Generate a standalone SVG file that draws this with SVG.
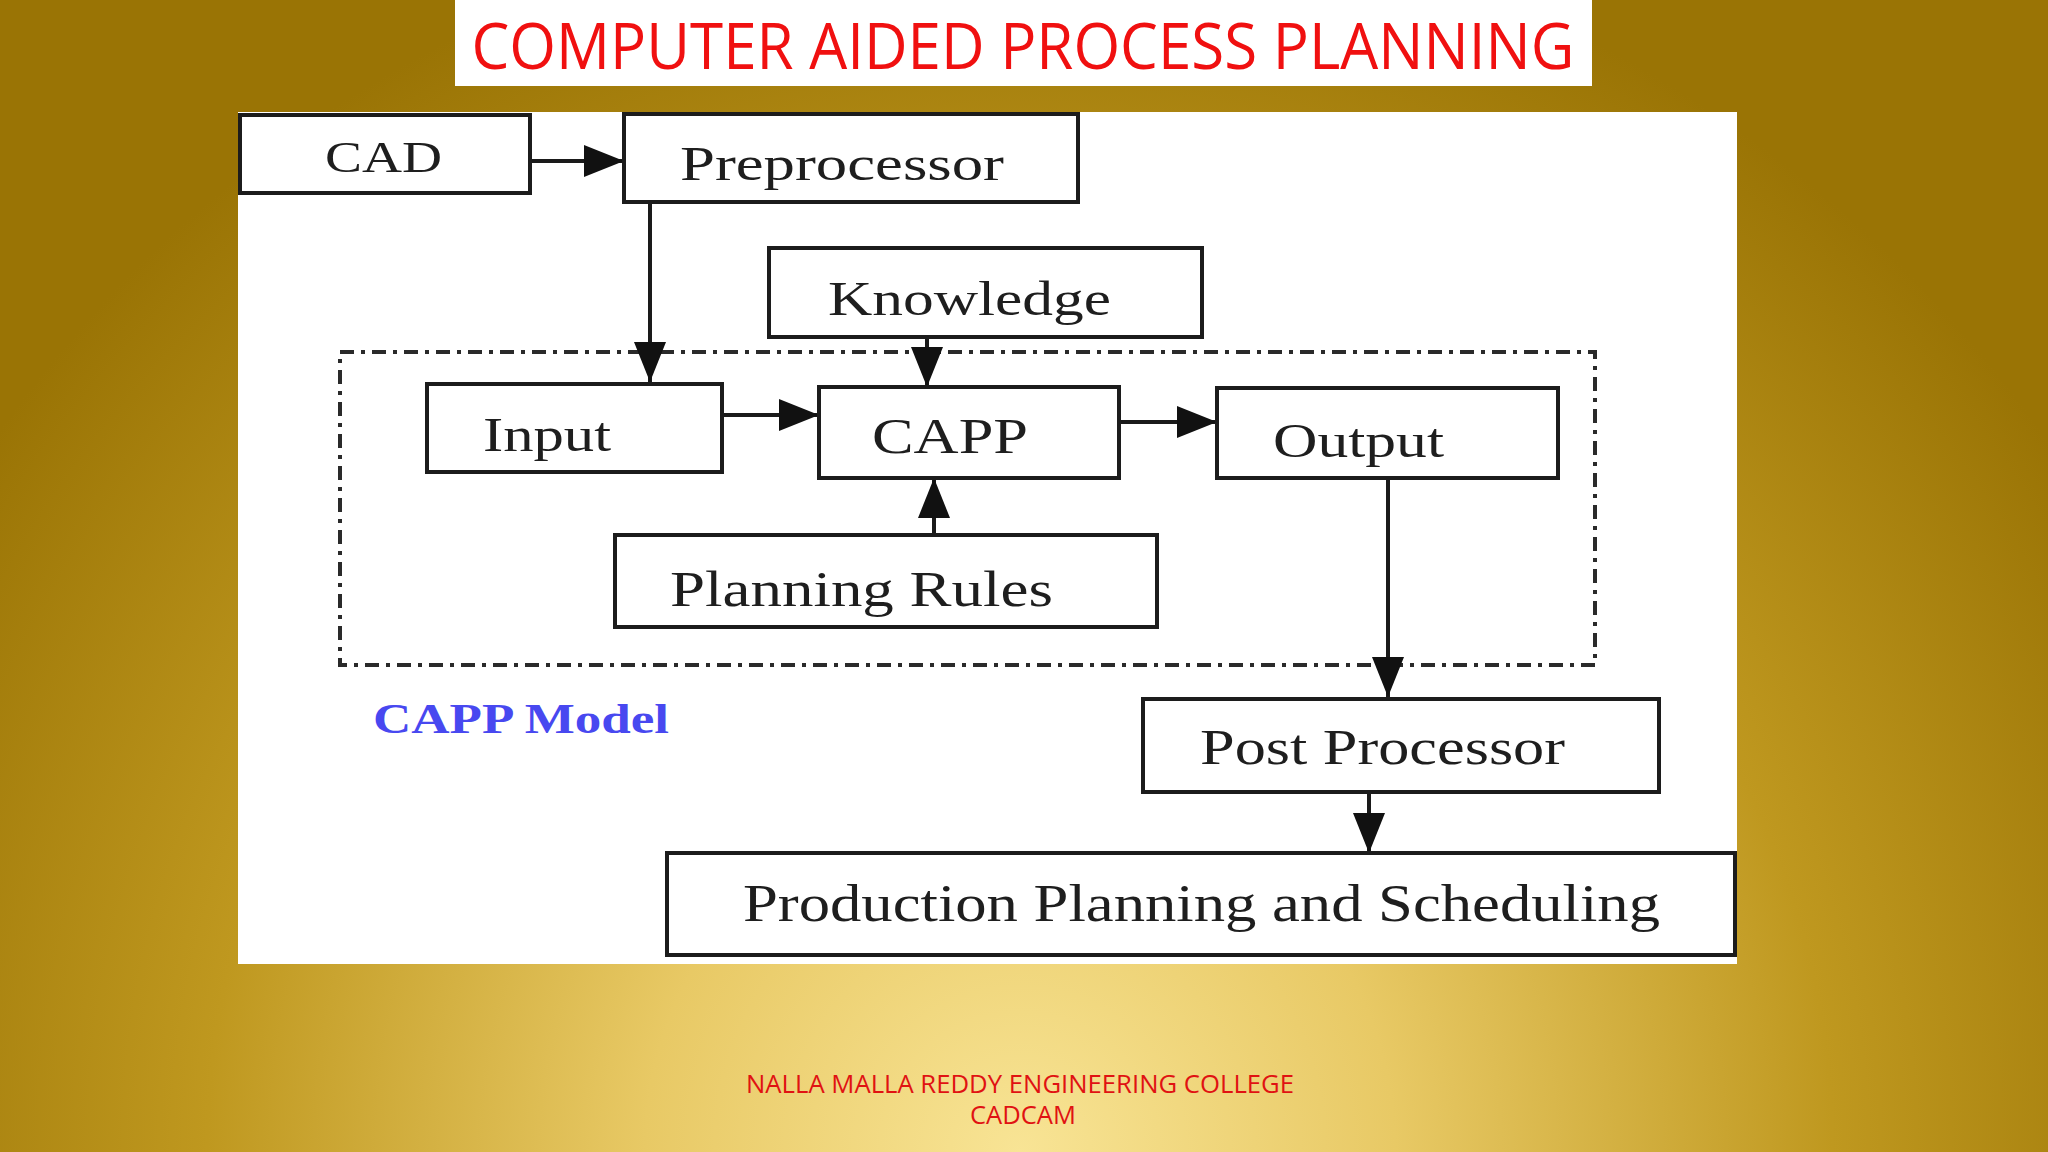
<svg xmlns="http://www.w3.org/2000/svg" width="2048" height="1152" viewBox="0 0 2048 1152">
<defs>
<radialGradient id="bg" gradientUnits="userSpaceOnUse" cx="1020" cy="1152" r="1250">
<stop offset="0" stop-color="#f8e495"/>
<stop offset="0.3" stop-color="#e8c965"/>
<stop offset="0.65" stop-color="#bf981f"/>
<stop offset="1" stop-color="#9a7405"/>
</radialGradient>
<marker id="arr" markerUnits="userSpaceOnUse" markerWidth="42" markerHeight="34" refX="40" refY="16" orient="auto" viewBox="0 0 42 34">
<path d="M0,0 L40,16 L0,32 z" fill="#111"/>
</marker>
<style>
.box{fill:#fff;stroke:#1c1c1c;stroke-width:4}
.lbl{font-family:"Liberation Serif","Times New Roman",serif;fill:#1e1e1e;text-anchor:start}
.con{stroke:#1a1a1a;stroke-width:4;fill:none}
.foot{font-family:"Open Sans","Noto Sans",sans-serif;fill:#e01212;text-anchor:middle}
</style>
</defs>
<rect x="0" y="0" width="2048" height="1152" fill="url(#bg)"/>
<g id="title">
<rect x="455" y="0" width="1137" height="86" fill="#fff"/>
<text x="1023" y="69" font-family="'Open Sans','Noto Sans',sans-serif" font-size="64" fill="#f01010" text-anchor="middle" textLength="1103" lengthAdjust="spacingAndGlyphs">COMPUTER AIDED PROCESS PLANNING</text>
</g>
<rect id="panel" x="238" y="112" width="1499" height="852" fill="#fff"/>
<g id="capp-model-boundary">
<rect x="340" y="352" width="1255" height="313" fill="none" stroke="#2a2a2a" stroke-width="4" stroke-dasharray="14 7 4 7"/>
</g>
<g id="connectors">
<line class="con" x1="530" y1="161" x2="624" y2="161" marker-end="url(#arr)"/>
<line class="con" x1="650" y1="202" x2="650" y2="382" marker-end="url(#arr)"/>
<line class="con" x1="927" y1="337" x2="927" y2="387" marker-end="url(#arr)"/>
<line class="con" x1="722" y1="415" x2="819" y2="415" marker-end="url(#arr)"/>
<line class="con" x1="1119" y1="422" x2="1217" y2="422" marker-end="url(#arr)" stroke="#555" stroke-width="6"/>
<line class="con" x1="934" y1="535" x2="934" y2="478" marker-end="url(#arr)"/>
<line class="con" x1="1388" y1="478" x2="1388" y2="697" marker-end="url(#arr)"/>
<line class="con" x1="1369" y1="792" x2="1369" y2="853" marker-end="url(#arr)" stroke="#666"/>
</g>
<g id="cad">
<rect class="box" x="240" y="115" width="290" height="78"/>
<text class="lbl" x="325" y="172" font-size="44" textLength="117" lengthAdjust="spacingAndGlyphs">CAD</text>
</g>
<g id="preprocessor">
<rect class="box" x="624" y="114" width="454" height="88"/>
<text class="lbl" x="680" y="180" font-size="48" textLength="324" lengthAdjust="spacingAndGlyphs">Preprocessor</text>
</g>
<g id="knowledge">
<rect class="box" x="769" y="248" width="433" height="89"/>
<text class="lbl" x="828" y="315" font-size="48" textLength="283" lengthAdjust="spacingAndGlyphs">Knowledge</text>
</g>
<g id="input">
<rect class="box" x="427" y="384" width="295" height="88"/>
<text class="lbl" x="483" y="451" font-size="48" textLength="128" lengthAdjust="spacingAndGlyphs">Input</text>
</g>
<g id="capp">
<rect class="box" x="819" y="387" width="300" height="91"/>
<text class="lbl" x="872" y="453" font-size="50" textLength="156" lengthAdjust="spacingAndGlyphs">CAPP</text>
</g>
<g id="output">
<rect class="box" x="1217" y="388" width="341" height="90"/>
<text class="lbl" x="1273" y="457" font-size="48" textLength="171" lengthAdjust="spacingAndGlyphs">Output</text>
</g>
<g id="planning-rules">
<rect class="box" x="615" y="535" width="542" height="92"/>
<text class="lbl" x="670" y="606" font-size="50" textLength="383" lengthAdjust="spacingAndGlyphs">Planning Rules</text>
</g>
<g id="capp-model-label">
<text x="373" y="733" font-family="'Liberation Serif','Times New Roman',serif" font-size="42" font-weight="bold" fill="#4848f0" textLength="296" lengthAdjust="spacingAndGlyphs">CAPP Model</text>
</g>
<g id="post-processor">
<rect class="box" x="1143" y="699" width="516" height="93"/>
<text class="lbl" x="1200" y="764" font-size="50" textLength="365" lengthAdjust="spacingAndGlyphs">Post Processor</text>
</g>
<g id="production-planning">
<rect class="box" x="667" y="853" width="1068" height="102"/>
<text class="lbl" x="743" y="921" font-size="52" textLength="917" lengthAdjust="spacingAndGlyphs">Production Planning and Scheduling</text>
</g>
<g id="footer">
<text class="foot" x="1020" y="1093" font-size="25" textLength="548" lengthAdjust="spacingAndGlyphs">NALLA MALLA REDDY ENGINEERING COLLEGE</text>
<text class="foot" x="1023" y="1124" font-size="25" textLength="106" lengthAdjust="spacingAndGlyphs">CADCAM</text>
</g>
</svg>
